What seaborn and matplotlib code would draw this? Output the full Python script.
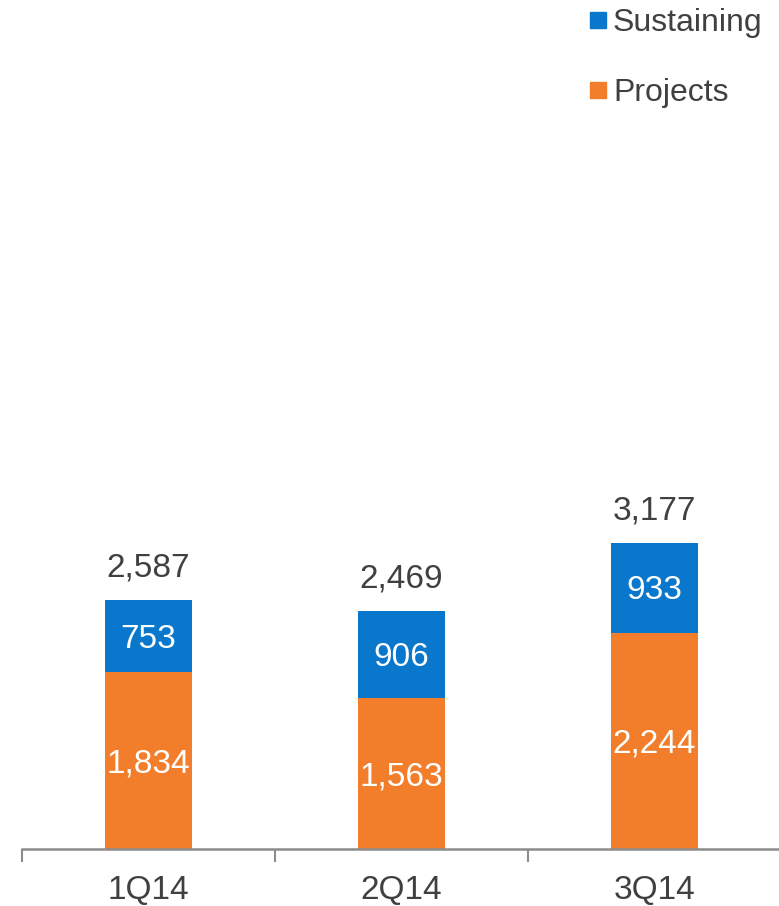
import matplotlib
matplotlib.use("Agg")
import matplotlib.pyplot as plt
from matplotlib.lines import Line2D
import seaborn as sns
import pandas as pd

quarters = ["1Q14", "2Q14", "3Q14"]
projects = [1834, 1563, 2244]
sustaining = [753, 906, 933]
totals = [p + s for p, s in zip(projects, sustaining)]

BLUE = "#0877CC"
ORANGE = "#F27E2B"
TEXT = "#404040"
AXIS = "#8C8C8C"
FS = 24

sns.set_theme(style="white")
plt.rcParams["font.family"] = ["Liberation Sans", "DejaVu Sans"]

df = pd.DataFrame({"quarter": quarters, "projects": projects,
                   "sustaining": sustaining, "total": totals})

fig = plt.figure(figsize=(7.79, 9.06), dpi=100)
ax = fig.add_axes([22 / 779, 57 / 906, 759 / 779, 849 / 906])

# Stacked bars: full total in blue, projects in orange on top of it
sns.barplot(data=df, x="quarter", y="total", color=BLUE, width=0.34,
            saturation=1, linewidth=0, ax=ax, order=quarters)
sns.barplot(data=df, x="quarter", y="projects", color=ORANGE, width=0.34,
            saturation=1, linewidth=0, ax=ax, order=quarters)

ax.set_xlim(-0.5, 2.5)
ax.set_ylim(0, 8816)

for i, (p, s, t) in enumerate(zip(projects, sustaining, totals)):
    ax.annotate(f"{p:,}", (i, p / 2), xytext=(0, -3), textcoords="offset pixels",
                ha="center", va="center", color="white", fontsize=FS)
    ax.annotate(f"{s:,}", (i, p + s / 2), xytext=(0, -3), textcoords="offset pixels",
                ha="center", va="center", color="white", fontsize=FS)
    ax.annotate(f"{t:,}", (i, t), xytext=(0, 32), textcoords="offset pixels",
                ha="center", va="center", color=TEXT, fontsize=FS)

# Axis styling: only a grey baseline with category separators
for side in ["top", "right", "left"]:
    ax.spines[side].set_visible(False)
ax.spines["bottom"].set_color(AXIS)
ax.spines["bottom"].set_linewidth(1.8)
ax.set_yticks([])
ax.set_xlabel("")
ax.set_ylabel("")
ax.set_xticks([-0.5, 0.5, 1.5, 2.5], minor=False)
ax.set_xticklabels([])
ax.tick_params(axis="x", which="major", length=9, width=1.5, color=AXIS,
               direction="out", bottom=True)
ax.set_xticks([0, 1, 2], minor=True)
ax.set_xticklabels(quarters, minor=True)
ax.tick_params(axis="x", which="minor", length=0, pad=19,
               labelsize=FS, labelcolor=TEXT)
ax.set_facecolor("white")

handles = [Line2D([], [], marker="s", linestyle="none", markersize=11.5,
                  markerfacecolor=BLUE, markeredgecolor=BLUE),
           Line2D([], [], marker="s", linestyle="none", markersize=11.5,
                  markerfacecolor=ORANGE, markeredgecolor=ORANGE)]
leg = fig.legend(handles, ["Sustaining", "Projects"], loc="upper left",
                 bbox_to_anchor=(590 / 779, 1 - 8 / 906), frameon=False,
                 fontsize=23, labelspacing=1.25, handletextpad=0.22,
                 handlelength=0.5, borderaxespad=0, borderpad=0)
for t in leg.get_texts():
    t.set_color(TEXT)

fig.savefig("out.png", dpi=100, facecolor="white")
